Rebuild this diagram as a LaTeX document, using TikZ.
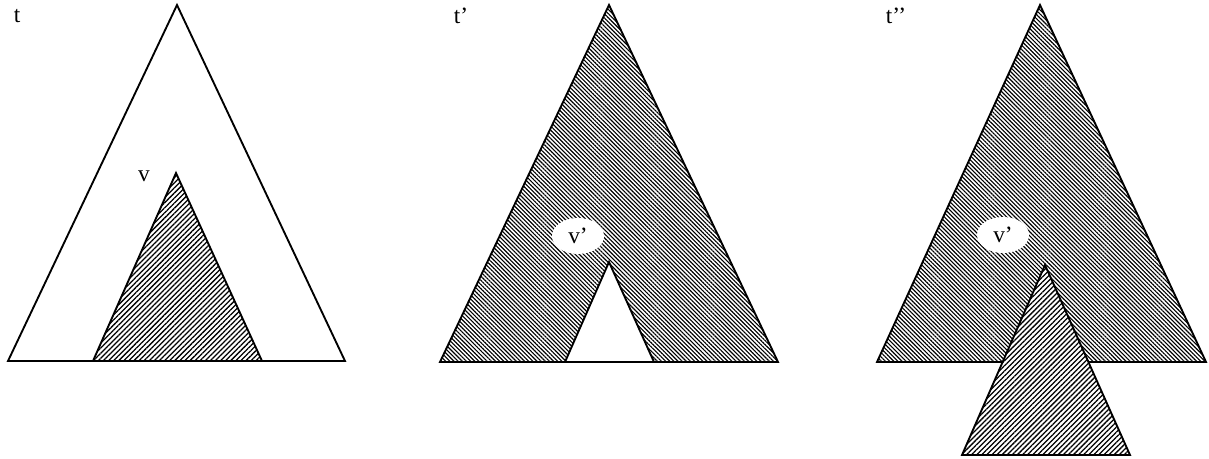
\documentclass[tikz,border=0pt]{standalone}
\usepackage{fontspec}
\setmainfont{Liberation Serif}
\usepackage{tikz}
\usetikzlibrary{patterns.meta,shapes.geometric}

\begin{document}
\begin{tikzpicture}[x=0.75pt, y=-0.75pt,
    every node/.style={font=\fontsize{17.5}{20}\selectfont},
    tri/.style={line width=1.4pt, line join=miter},
    hatchne/.style={pattern={Lines[angle=45,distance=2.7pt,line width=0.95pt]}},
    hatchnw/.style={pattern={Lines[angle=-45,distance=2.2pt,line width=0.85pt]}},
    bubble/.style={ellipse, fill=white, minimum width=39pt, minimum height=27pt, inner sep=0pt}]
\useasboundingbox (0,0) rectangle (1209,459);

% Tree t with subtree at v
\draw[tri] (177,5) -- (8,361) -- (345,361) -- cycle;
\draw[tri, hatchne] (176,173) -- (93,361) -- (262,361) -- cycle;
\node (t) at (17,16) {t};
\node (v) at (144,176) {v};

% Tree t' with the hole at v'
\draw[tri, hatchnw] (609,5) -- (440,362) -- (778,362) -- cycle;
\draw[tri, fill=white] (609,262) -- (565,362) -- (654,362) -- cycle;
\node (tp) at (461,16) {t'};
\node[bubble] (vp) at (578,236) {v'};

% Tree t'' with the new subtree at v'
\draw[tri, hatchnw] (1040,5) -- (877,362) -- (1206,362) -- cycle;
\draw[tri, fill=white] (1045,265) -- (962,455) -- (1130,455) -- cycle;
\fill[hatchne] (1045,265) -- (962,455) -- (1130,455) -- cycle;
\node (tpp) at (896,16) {t'{}'};
\node[bubble] (vpp) at (1003,235) {v'};

\end{tikzpicture}
\end{document}
